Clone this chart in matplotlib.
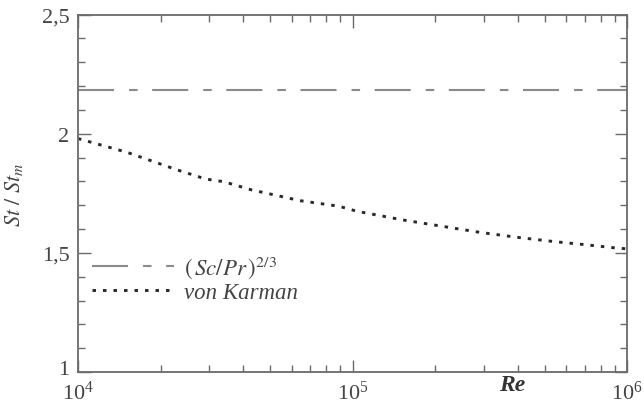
import numpy as np
import matplotlib
matplotlib.use("Agg")
import matplotlib.pyplot as plt
import matplotlib.transforms as mtrans
from matplotlib.ticker import FixedLocator, FixedFormatter, LogLocator

# data
re_vk = [1.0e4, 1.51e4, 2.29e4, 2.92e4, 3.39e4, 4.27e4, 6.46e4, 8.91e4, 1.035e5,
         1.53e5, 2.14e5, 2.92e5, 4.01e5, 5.47e5, 6.97e5, 9.04e5, 1.0e6]
st_vk = [1.98, 1.922, 1.849, 1.810, 1.799, 1.765, 1.719, 1.696, 1.675,
         1.638, 1.611, 1.586, 1.565, 1.547, 1.535, 1.521, 1.517]
sc_pr_23 = 2.185

y_ticks = [1, 1.5, 2, 2.5]
y_labels = ["1", "1,5", "2", "2,5"]

plt.rcParams['font.family'] = ['Liberation Serif', 'DejaVu Serif']
plt.rcParams['mathtext.fontset'] = 'stix'

grey = '#6a6a6a'
txt = '#444444'

fig = plt.figure(figsize=(6.44, 4.10), dpi=100)
ax = fig.add_axes([0.121, 0.090, 0.853, 0.872])

ax.plot([1e4, 1e6], [sc_pr_23, sc_pr_23], color='#8a8a8a', lw=1.5,
        dashes=(17.3, 7.2, 4.1, 7.0), solid_capstyle='butt', dash_capstyle='butt',
        label=r'$(\,Sc/Pr\,)^{2/3}$')
ax.plot(re_vk, st_vk, color='#2a2a2a', lw=2.1, dashes=(1.2, 2.4),
        dash_capstyle='butt', label='von Karman')

ax.set_xscale('log')
ax.set_xlim(1e4, 1e6)
ax.set_ylim(1, 2.5)

ax.yaxis.set_major_locator(FixedLocator(y_ticks))
ax.yaxis.set_major_formatter(FixedFormatter(y_labels))
ax.yaxis.set_minor_locator(FixedLocator(np.arange(1.0, 2.51, 0.1)))
ax.xaxis.set_minor_locator(LogLocator(base=10, subs=np.arange(2, 10), numticks=10))

ax.tick_params(which='both', direction='in', top=True, right=True, colors=grey,
               labelcolor=txt, labelsize=16, width=1)
ax.tick_params(which='major', length=9, pad=6)
ax.tick_params(which='minor', length=5)
for s in ax.spines.values():
    s.set_color(grey)
    s.set_linewidth(1.3)

# keep 10^4 clear of the "1" label, as in the original
fig.canvas.draw()
ax.get_xticklabels()[0].set_transform(
    ax.get_xticklabels()[0].get_transform() + mtrans.ScaledTranslation(0, -8 / 72, fig.dpi_scale_trans))
ax.get_yticklabels()[0].set_transform(
    ax.get_yticklabels()[0].get_transform() + mtrans.ScaledTranslation(0, 4 / 72, fig.dpi_scale_trans))

ax.set_ylabel(r'$St\ /\ St_m$', fontsize=16, color=txt, labelpad=12)
ax.set_xlabel('Re', fontsize=17, color='#333333', va='center',
              fontweight='bold', fontstyle='italic')
ax.xaxis.set_label_coords((512 - 78) / 549, -0.035)

leg = ax.legend(loc='center left', bbox_to_anchor=(0.025, 0.262), frameon=False,
                fontsize=16.5, handlelength=3.6, handletextpad=0.45,
                labelspacing=0.1, borderpad=0, borderaxespad=0)
for t in leg.get_texts():
    t.set_color(txt)
leg.get_texts()[1].set_fontstyle('italic')

fig.savefig('out.png', dpi=100)
